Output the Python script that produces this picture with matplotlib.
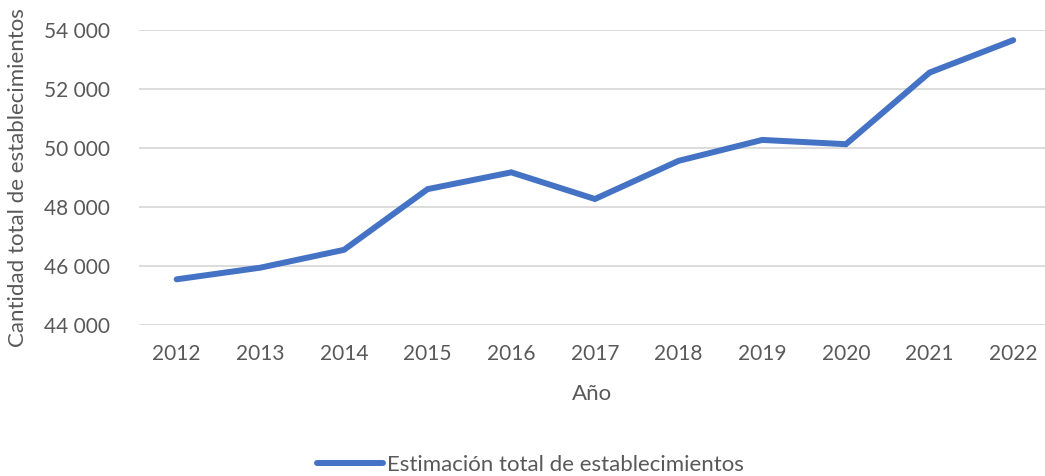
import matplotlib
matplotlib.use("Agg")
import matplotlib.pyplot as plt
from matplotlib.ticker import FuncFormatter, MultipleLocator

# Datos
anios = [2012, 2013, 2014, 2015, 2016, 2017, 2018, 2019, 2020, 2021, 2022]
establecimientos = [45540, 45935, 46540, 48600, 49170, 48265, 49560, 50270, 50125, 52555, 53655]

gris = '#595959'
plt.rcParams['font.family'] = ['Lato', 'DejaVu Sans']

fig = plt.figure(figsize=(10.45, 4.76), dpi=100)
ax = fig.add_axes([139 / 1045, 1 - 324.7 / 476, 1 - 139 / 1045, (324.7 - 30) / 476])

ax.plot(anios, establecimientos, color='#4472C4', linewidth=4.3,
        solid_capstyle='round', solid_joinstyle='miter',
        label='Estimación total de establecimientos', zorder=3)

ax.set_xlim(2011.55, 2022.38)
ax.set_ylim(44000, 54000)
ax.yaxis.set_major_locator(MultipleLocator(2000))
ax.set_xticks(anios)
ax.yaxis.set_major_formatter(FuncFormatter(lambda v, p: f'{int(v):,}'.replace(',', ' ')))

ax.grid(axis='y', color='#D9D9D9', linewidth=1.3)
ax.set_axisbelow(True)
for s in ax.spines.values():
    s.set_visible(False)
ax.tick_params(axis='both', length=0, labelsize=15, labelcolor=gris)
ax.tick_params(axis='y', pad=21)
ax.tick_params(axis='x', pad=14)

ax.set_xlabel('Año', fontsize=16, color=gris, labelpad=14)
fig.text(18 / 1045, 1 - 178 / 476, 'Cantidad total de establecimientos', rotation=90,
         ha='center', va='center', fontsize=16, color=gris)

fig.legend(loc='center', bbox_to_anchor=(530 / 1045, 1 - 465 / 476), frameon=False,
           fontsize=16, labelcolor=gris, handlelength=3.0, handletextpad=0.15)

fig.savefig('out.png', dpi=100)
